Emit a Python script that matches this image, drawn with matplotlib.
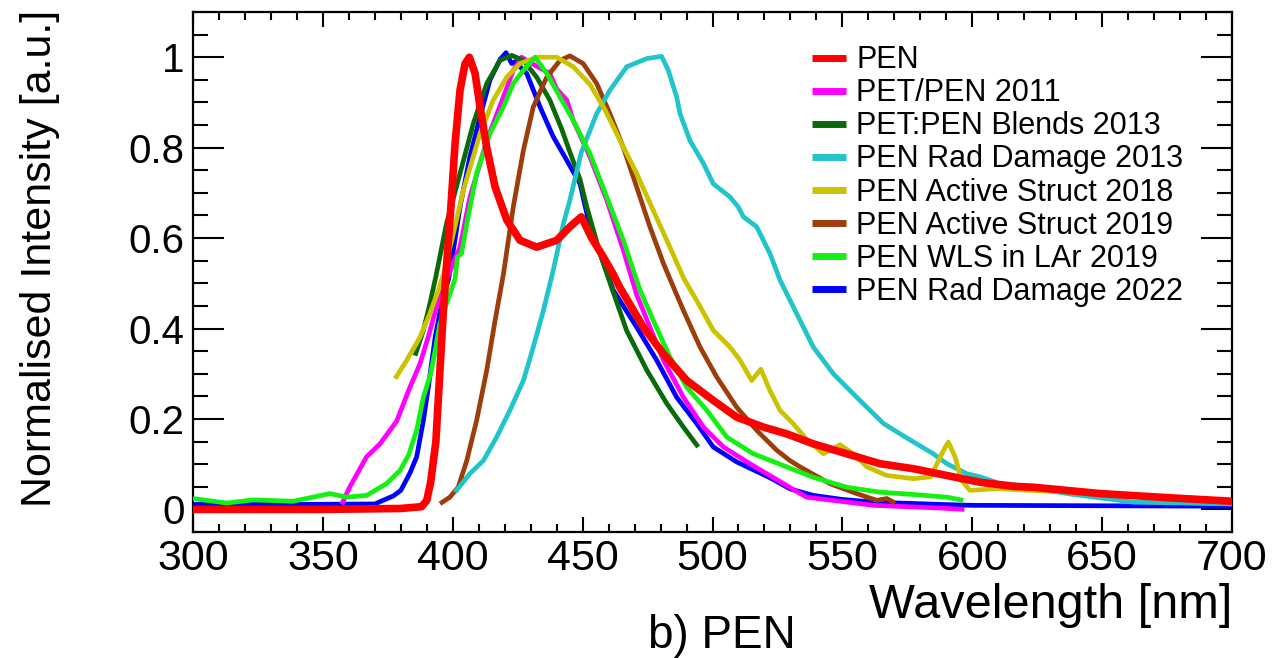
import matplotlib
matplotlib.use("Agg")
import matplotlib.pyplot as plt
from matplotlib.ticker import MultipleLocator, FuncFormatter

plt.rcParams['font.family'] = ['Liberation Sans', 'DejaVu Sans']

# ---------------- data ----------------
labels = ["PEN", "PET/PEN 2011", "PET:PEN Blends 2013", "PEN Rad Damage 2013",
          "PEN Active Struct 2018", "PEN Active Struct 2019", "PEN WLS in LAr 2019",
          "PEN Rad Damage 2022"]

pen_wl = [300, 320, 350, 380, 388, 390, 391.5, 393.5, 395, 396.5, 397.5, 399.3, 400.9, 402.8,
          404.7, 406.4, 408.6, 410.5, 413.1, 416.3, 420.8, 425.9, 432.3, 440, 445.1, 449.5,
          453.5, 458, 461.8, 464.4, 473.4, 481.1, 490.1, 500.3, 509.3, 519.6, 528.6, 538.8,
          551.7, 564.5, 577.3, 590.2, 603, 615.8, 623.5, 649.2, 674.9, 700]
pen_int = [0.0, 0.0, 0.0, 0.002, 0.006, 0.02, 0.06, 0.15, 0.3, 0.45, 0.53, 0.67, 0.81, 0.927,
           0.985, 1.0, 0.964, 0.89, 0.80, 0.713, 0.64, 0.595, 0.58, 0.595, 0.625, 0.647,
           0.60, 0.558, 0.52, 0.49, 0.403, 0.344, 0.285, 0.241, 0.204, 0.182, 0.167, 0.145,
           0.123, 0.101, 0.09, 0.075, 0.06, 0.051, 0.049, 0.035, 0.026, 0.018]

p11_wl = [357.2, 360.4, 366.8, 372, 378.4, 383.5, 387.4, 391, 394.8, 402.8, 406.6, 413.1,
          419.5, 423.3, 426.5, 432.3, 437.4, 440, 443.9, 446.4, 452.8, 459.3, 465.7, 470.8,
          481.1, 488.8, 496.5, 504.2, 514.4, 527.3, 536.2, 562, 587.6, 597]
p11_int = [0.011, 0.05, 0.116, 0.145, 0.195, 0.27, 0.322, 0.39, 0.47, 0.58, 0.69, 0.816,
           0.912, 0.971, 1.0, 0.98, 0.964, 0.93, 0.905, 0.86, 0.78, 0.684, 0.573, 0.475,
           0.33, 0.248, 0.182, 0.138, 0.101, 0.057, 0.027, 0.009, 0.003, 0.0]

b13_wl = [385.5, 388.7, 391.2, 393.5, 397.6, 402.8, 407.9, 413.1, 418.2, 422.7, 427.2, 432.3,
          437.4, 442, 445.1, 449, 451.6, 456.7, 460, 466.9, 474.7, 482.4, 488.8, 494.5]
b13_int = [0.34, 0.396, 0.455, 0.515, 0.632, 0.743, 0.853, 0.942, 0.993, 1.004, 0.993, 0.956,
           0.905, 0.84, 0.79, 0.73, 0.669, 0.566, 0.51, 0.396, 0.308, 0.234, 0.182, 0.138]

rd13_wl = [400.9, 406.6, 411.8, 416.9, 422, 427.2, 431, 434.9, 438.7, 442.6, 445.1, 449.5,
           455.4, 460.5, 467, 474.7, 480.4, 483, 486.2, 487.5, 491.3, 496.5, 500.3, 506.7,
           509.9, 511.9, 517, 522.1, 526, 532.4, 538.8, 546.5, 555.5, 565.8, 574.8, 585,
           590.2, 597.9, 603, 610.7, 615.8, 636.4, 662, 700]
rd13_int = [0.038, 0.079, 0.108, 0.16, 0.219, 0.285, 0.359, 0.44, 0.529, 0.632, 0.684, 0.79,
            0.875, 0.927, 0.979, 0.997, 1.002, 0.971, 0.912, 0.875, 0.816, 0.765, 0.72, 0.691,
            0.669, 0.647, 0.625, 0.566, 0.507, 0.433, 0.359, 0.30, 0.248, 0.19, 0.158, 0.123,
            0.101, 0.079, 0.072, 0.057, 0.055, 0.035, 0.016, 0.012]

as18_wl = [377.8, 382.3, 387.4, 391.2, 394.5, 396.4, 399.6, 404.1, 410.5, 415.6, 420.8, 425.9,
           432.3, 440, 446.4, 452.8, 458.5, 464.4, 470.8, 477.2, 483.6, 489, 493.9, 500.3,
           506.7, 510.6, 515.1, 518.6, 522.1, 526, 531, 536.2, 542.7, 549.1, 554.2, 559.4,
           567.1, 577.3, 584, 588.9, 590.8, 593.4, 595.9, 599.1, 609.4, 622.2, 650]
as18_int = [0.289, 0.33, 0.381, 0.433, 0.485, 0.52, 0.595, 0.706, 0.831, 0.905, 0.956, 0.986,
            1.0, 1.0, 0.979, 0.94, 0.885, 0.816, 0.743, 0.661, 0.58, 0.51, 0.462, 0.396,
            0.359, 0.33, 0.285, 0.31, 0.263, 0.219, 0.19, 0.155, 0.123, 0.143, 0.123, 0.094,
            0.075, 0.068, 0.072, 0.13, 0.149, 0.116, 0.064, 0.042, 0.046, 0.042, 0.035]

as19_wl = [395.1, 398.9, 402.1, 405.4, 409.2, 413.1, 416.3, 419.5, 423.3, 427.2, 431, 436.2,
           441.3, 445.1, 450.2, 455.4, 460.5, 465.7, 470.8, 475.9, 481.1, 483.6, 488.8, 495.2,
           501.6, 509.3, 517, 524.7, 529.8, 533.7, 545.2, 555.5, 563.2, 567.1, 570.3]
as19_int = [0.0125, 0.027, 0.049, 0.108, 0.197, 0.308, 0.418, 0.52, 0.669, 0.794, 0.89, 0.956,
            0.993, 1.003, 0.986, 0.942, 0.875, 0.80, 0.713, 0.625, 0.544, 0.51, 0.44, 0.359,
            0.293, 0.226, 0.175, 0.131, 0.108, 0.094, 0.057, 0.035, 0.02, 0.024, 0.014]

wls_wl = [300, 313, 323, 338.6, 352.7, 359.2, 366.9, 374.5, 379.7, 383, 386.1, 388.7, 391.5,
          393.5, 395, 397.6, 400.9, 401.8, 403.4, 405.4, 409.2, 414.3, 419.5, 423.3, 427.2,
          431.7, 436.2, 441.3, 446.4, 452.8, 459.3, 465.7, 469.5, 472.1, 477.2, 483.6, 490.1,
          497.8, 505.5, 515.7, 528.6, 538.8, 551.7, 564.5, 577.3, 590.2, 596.6]
wls_int = [0.024, 0.014, 0.021, 0.018, 0.035, 0.027, 0.031, 0.057, 0.086, 0.12, 0.175, 0.248,
           0.3, 0.36, 0.41, 0.455, 0.51, 0.558, 0.566, 0.632, 0.743, 0.831, 0.89, 0.942, 0.971,
           1.0, 0.964, 0.912, 0.86, 0.787, 0.691, 0.595, 0.529, 0.485, 0.418, 0.337, 0.27,
           0.219, 0.16, 0.123, 0.094, 0.071, 0.049, 0.038, 0.033, 0.027, 0.02]

rd22_wl = [300, 340, 370, 377.2, 380, 383.5, 386.1, 388.7, 390.6, 393.2, 395.7, 398.3, 399.6,
           402.8, 406.6, 410.5, 414.3, 418.2, 420.5, 422.7, 424, 428.5, 433.6, 438.7, 443.9,
           449, 452.8, 456.7, 461.8, 470.8, 478.5, 486.2, 493.9, 500.3, 509.3, 522.1, 530,
           538.8, 550, 562, 587.6, 600, 650, 700]
rd22_int = [0.011, 0.011, 0.012, 0.03, 0.042, 0.08, 0.116, 0.197, 0.27, 0.38, 0.455, 0.507,
            0.55, 0.669, 0.78, 0.868, 0.949, 0.995, 1.01, 0.986, 0.99, 0.964, 0.89, 0.824,
            0.772, 0.72, 0.625, 0.566, 0.485, 0.403, 0.33, 0.248, 0.19, 0.138, 0.105, 0.07,
            0.045, 0.031, 0.022, 0.016, 0.011, 0.009, 0.008, 0.007]

colors = ["#ff0000", "#ff00ff", "#0a6a0a", "#22c4cb", "#cbc200", "#9e3d0c", "#14f014", "#0000ff"]
series = [(pen_wl, pen_int), (p11_wl, p11_int), (b13_wl, b13_int), (rd13_wl, rd13_int),
          (as18_wl, as18_int), (as19_wl, as19_int), (wls_wl, wls_int), (rd22_wl, rd22_int)]
zorders = [10, 3, 4, 6, 7, 5, 8, 2]
widths = [5.5, 3.4, 3.4, 3.4, 3.4, 3.4, 3.4, 3.4]

# ---------------- figure ----------------
fig = plt.figure(figsize=(12.74, 6.58), dpi=100)
ax = fig.add_axes([193/1274, 1-532/658, (1232-193)/1274, (532-12)/658])

handles = []
for (x, y), c, z, w, lab in zip(series, colors, zorders, widths, labels):
    ln, = ax.plot(x, y, color=c, lw=w, zorder=z, label=lab, solid_capstyle='butt',
                  solid_joinstyle='round')
    handles.append(ln)

ax.set_xlim(300, 700)
ax.set_ylim(-0.05, 1.1)

ax.xaxis.set_major_locator(MultipleLocator(50))
ax.xaxis.set_minor_locator(MultipleLocator(10))
ax.yaxis.set_major_locator(MultipleLocator(0.2))
ax.yaxis.set_minor_locator(MultipleLocator(0.05))
ax.yaxis.set_major_formatter(FuncFormatter(lambda v, p: f"{v:g}" if abs(v) > 1e-9 else "0"))

ax.tick_params(axis='both', which='both', direction='in', top=True, right=True,
               width=1.5, color='black')
ax.tick_params(axis='x', which='major', length=11, labelsize=31, pad=5)
ax.tick_params(axis='x', which='minor', length=5.5)
ax.tick_params(axis='y', which='major', length=22, labelsize=29, pad=6)
ax.tick_params(axis='y', which='minor', length=11)
for s in ax.spines.values():
    s.set_linewidth(1.6)

leg = ax.legend(handles=handles, loc='upper left', bbox_to_anchor=(0.5958, 0.936),
                frameon=False, fontsize=22, handlelength=1.12, handletextpad=0.33,
                labelspacing=0.1, borderaxespad=0, borderpad=0)
for h in leg.legend_handles:
    h.set_linewidth(5)

fig.text(40/1274, 1-10/658, "Normalised Intensity [a.u.]", rotation=90, ha='center',
         va='top', fontsize=31)
fig.text(1232/1274, 1-606/658, "Wavelength [nm]", ha='right', va='center', fontsize=35)
fig.text(722/1274, 1-636/658, "b) PEN", ha='center', va='center', fontsize=33)

fig.savefig("out.png", dpi=100)
